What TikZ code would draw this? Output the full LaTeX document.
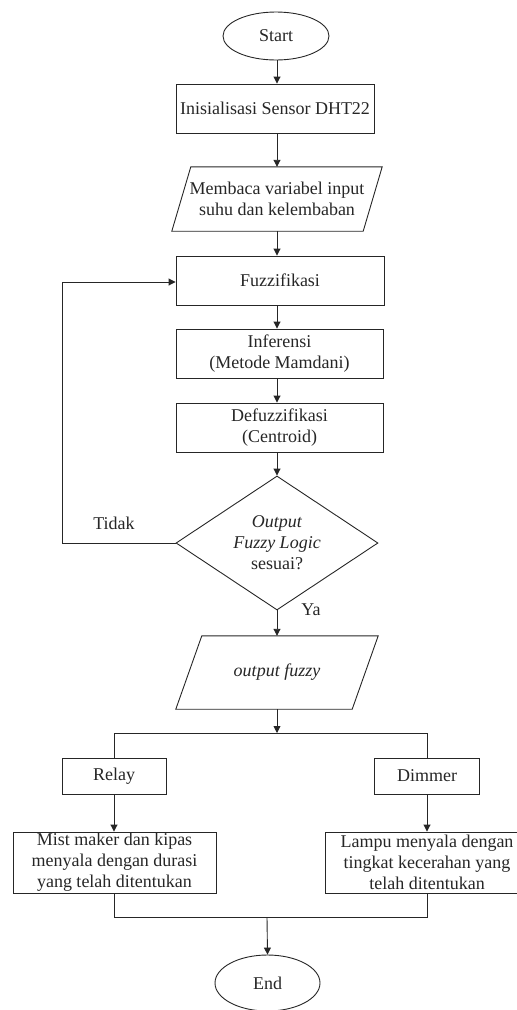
\documentclass[tikz,border=0pt]{standalone}
\usepackage{fontspec}
\setmainfont{Liberation Serif}
\usetikzlibrary{shapes.geometric,arrows.meta}
\begin{document}
\begin{tikzpicture}[x=1pt,y=-1pt,
  every node/.style={font=\fontsize{18}{21}\selectfont, text=black!85, align=center},
  line/.style={draw=black!85, line width=0.9pt},
  arr/.style={line, -{Triangle[length=7pt,width=7pt]}},
  term/.style={line, ellipse, inner sep=0pt},
  box/.style={line, rectangle, inner sep=0pt},
  io/.style={rectangle, inner sep=0pt},
  dec/.style={line, diamond, aspect=1.5, inner sep=0pt, minimum width=202pt, minimum height=134pt},
  lbl/.style={inner sep=0pt}
]
\useasboundingbox (0,0) rectangle (517,1010);
\clip (0,0) rectangle (517,1010);

% main column
\node[term, minimum width=106pt, minimum height=48pt] (start) at (276,36) {Start};
\node[box, minimum width=198pt, minimum height=49pt] (init) at (275,108.5) {Inisialisasi Sensor DHT22};
\node[io, minimum width=191pt, minimum height=64pt] (read) at (277,199) {Membaca variabel input\\suhu dan kelembaban};
\draw[line] ([xshift=9.5pt]read.north west) -- ([xshift=9.5pt]read.north east) -- ([xshift=-9.5pt]read.south east) -- ([xshift=-9.5pt]read.south west) -- cycle;
\node[box, minimum width=208pt, minimum height=49pt] (fuzz) at (280,280.5) {Fuzzifikasi};
\node[box, minimum width=207pt, minimum height=49pt] (inf) at (279.5,353.5) {Inferensi\\(Metode Mamdani)};
\node[box, minimum width=207pt, minimum height=49pt] (def) at (279.5,427.5) {Defuzzifikasi\\(Centroid)};
\node[dec] (dec) at (277,543) {\textit{Output}\\\textit{Fuzzy Logic}\\sesuai?};
\node[io, minimum width=176pt, minimum height=73pt] (out) at (277,672.5) {\textit{output fuzzy}};
\draw[line] ([xshift=13pt]out.north west) -- ([xshift=13pt]out.north east) -- ([xshift=-13pt]out.south east) -- ([xshift=-13pt]out.south west) -- cycle;

% branches
\node[box, minimum width=104pt, minimum height=36pt] (relay) at (114,776) {Relay};
\node[box, minimum width=105pt, minimum height=36pt] (dim) at (427,776) {Dimmer};
\node[box, minimum width=203pt, minimum height=61pt] (mist) at (114.5,862.5) {Mist maker dan kipas\\menyala dengan durasi\\yang telah ditentukan};
\node[box, minimum width=204pt, minimum height=61pt] (lamp) at (427,862.5) {Lampu menyala dengan\\tingkat kecerahan yang\\telah ditentukan};
\node[term, minimum width=105pt, minimum height=56pt] (end) at (267.5,983) {End};

\coordinate (split) at (277,733);
\coordinate (merge) at (267,917);

% labels
\node[lbl] (tidak) at (114,523) {Tidak};
\node[lbl] (ya) at (311,610) {Ya};

% connectors
\draw[arr] (start.south -| read.north) -- (init.north -| read.north);
\draw[arr] (init.south -| read.north) -- (read.north);
\draw[arr] (read.south) -- (read.south |- fuzz.north);
\draw[arr] (fuzz.south -| read.south) -- (read.south |- inf.north);
\draw[arr] (inf.south -| read.south) -- (read.south |- def.north);
\draw[arr] (def.south -| dec.north) -- (dec.north);
\draw[arr] (dec.west) -- (62,543) -- (62,282) -- (fuzz.west |- 0,282);
\draw[arr] (dec.south) -- (out.north);
\draw[arr] (out.south) -- (split);
\draw[line] (relay.north) -- (relay.north |- split) -- (dim.north |- split) -- (dim.north);
\draw[arr] (relay.south) -- (mist.north -| relay.south);
\draw[arr] (dim.south) -- (lamp.north);
\draw[line] (mist.south -| relay) -- (relay |- merge) -- (lamp.south |- merge) -- (lamp.south);
\draw[arr] (merge) -- (end.north);
\end{tikzpicture}
\end{document}
